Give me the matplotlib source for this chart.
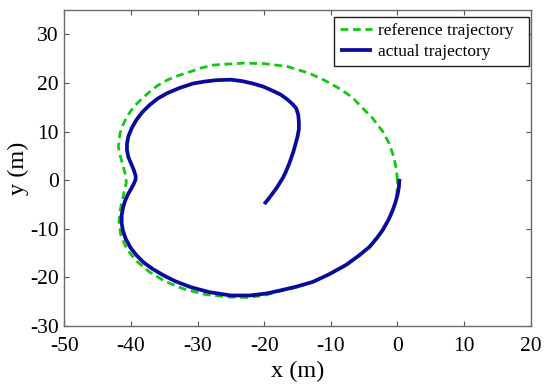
import matplotlib
matplotlib.use("Agg")
import matplotlib.pyplot as plt

# --- data ---
ref_x = [0.0, -0.2, -0.6, -1.3, -2.2, -3.7, -5.2, -6.9, -9.0, -11.0, -13.2,
         -16.5, -20.0, -23.0, -25.6, -27.7, -29.5, -31.2, -33.0, -34.6, -36.0,
         -37.2, -38.2, -39.1, -39.9, -40.6, -41.2, -41.65, -41.9, -41.6, -41.2,
         -40.8, -40.7, -40.9, -41.2, -41.6, -41.8, -41.5, -40.6, -39.2, -37.3,
         -34.9, -32.0, -28.8, -25.5, -22.5, -20.0, -17.7, -15.2, -12.7, -10.2,
         -7.7, -5.8, -4.2, -3.1, -2.2, -1.3, -0.7, -0.3, -0.05, 0.0]
ref_y = [0.0, 2.5, 5.0, 7.7, 10.0, 12.7, 14.8, 17.2, 19.1, 20.6, 22.0,
         23.4, 24.0, 24.1, 23.9, 23.7, 23.1, 22.3, 21.5, 20.6, 19.5,
         18.2, 17.0, 15.8, 14.5, 13.1, 11.4, 9.65, 6.9, 5.0, 3.0,
         1.0, -0.5, -1.5, -3.5, -6.0, -8.5, -11.5, -14.2, -16.6, -18.8,
         -20.8, -22.4, -23.5, -24.0, -24.1, -23.7, -22.8, -22.0, -20.9, -19.3,
         -17.4, -15.5, -13.7, -11.9, -10.2, -8.0, -6.1, -4.5, -2.2, 0.0]

act_x = [-20.0, -19.4, -18.8, -18.2, -17.7, -17.2, -16.8, -16.5, -16.2, -15.9,
         -15.6, -15.3, -15.0, -14.8, -14.8, -14.9, -15.2, -15.7, -16.5, -17.5,
         -18.7, -20.2, -21.7, -23.3, -25.0, -27.2, -29.0, -30.7, -32.7, -34.6,
         -36.0, -37.2, -38.3, -39.2, -39.9, -40.4, -40.6, -40.6, -40.4, -40.0,
         -39.6, -39.3, -39.3, -39.6, -40.0, -40.5, -40.9, -41.2, -41.4, -41.4,
         -41.2, -40.8, -40.1, -39.2, -38.1, -36.8, -35.2, -33.3, -31.0, -28.3,
         -25.0, -22.2, -19.7, -17.7, -15.2, -12.7, -10.2, -7.7, -5.8, -4.2,
         -3.1, -2.2, -1.3, -0.7, -0.3, 0.0, 0.2, 0.3]
act_y = [-4.9, -3.9, -2.8, -1.7, -0.6, 0.5, 1.6, 2.6, 3.6, 4.8,
         6.0, 7.5, 9.0, 10.5, 12.0, 13.5, 14.8, 15.6, 16.6, 17.6,
         18.4, 19.3, 19.9, 20.4, 20.7, 20.6, 20.3, 19.9, 19.0, 17.9,
         16.8, 15.5, 14.0, 12.4, 10.7, 9.0, 7.5, 6.2, 4.8, 3.5,
         2.2, 0.9, 0.2, -0.8, -1.8, -3.0, -4.3, -5.7, -7.2, -8.8,
         -10.4, -12.0, -13.8, -15.4, -16.9, -18.2, -19.5, -20.8, -22.0, -23.0,
         -23.7, -23.7, -23.3, -22.7, -21.9, -20.9, -19.3, -17.4, -15.5, -13.7,
         -11.9, -10.2, -8.0, -6.1, -4.5, -3.0, -1.5, 0.3]

x_ticks = [-50, -40, -30, -20, -10, 0, 10, 20]
y_ticks = [-30, -20, -10, 0, 10, 20, 30]

GREEN = "#12c812"
BLUE = "#0a0a9c"

plt.rcParams.update(
    {
        "font.family": "Liberation Serif",
        "font.size": 15,
        "axes.linewidth": 1.0,
        "axes.edgecolor": "#6a6a6a",
    }
)

fig = plt.figure(figsize=(5.5, 3.91), dpi=100)
ax = fig.add_axes([0.117, 0.166, 0.848, 0.808])

ax.plot(ref_x, ref_y, color=GREEN, linewidth=2.0, dashes=(2.8, 1.7),
        label="reference trajectory")
ax.plot(act_x, act_y, color=BLUE, linewidth=2.7, solid_joinstyle="round",
        solid_capstyle="butt", label="actual trajectory")

ax.set_xlim(-50, 20)
ax.set_ylim(-30, 35)
ax.set_xticks(x_ticks)
ax.set_yticks(y_ticks)
ax.set_xticklabels([str(v) for v in x_ticks])
ax.set_yticklabels([str(v) for v in y_ticks])
ax.tick_params(direction="in", length=3.5, width=0.8, color="#555555",
               top=True, right=True, labelsize=15.5)
ax.tick_params(axis="x", pad=7.5)
ax.tick_params(axis="y", pad=4)

ax.set_xlabel("x (m)", fontsize=17.5, labelpad=4)
ax.set_ylabel("y (m)", fontsize=17.5, labelpad=1)

# MATLAB-style legend: extra room on the right of the labels
leg = ax.legend(loc="upper right", bbox_to_anchor=(0.996, 0.979), fontsize=12.5,
                frameon=True, fancybox=False, framealpha=1, edgecolor="#202020",
                borderpad=0.35, labelspacing=0.3, handlelength=1.85,
                handletextpad=0.35, borderaxespad=0)
leg.get_frame().set_linewidth(1.0)
for txt in leg.get_texts():
    txt.set_text(txt.get_text() + "  ")

fig.savefig("out.png", dpi=100)
